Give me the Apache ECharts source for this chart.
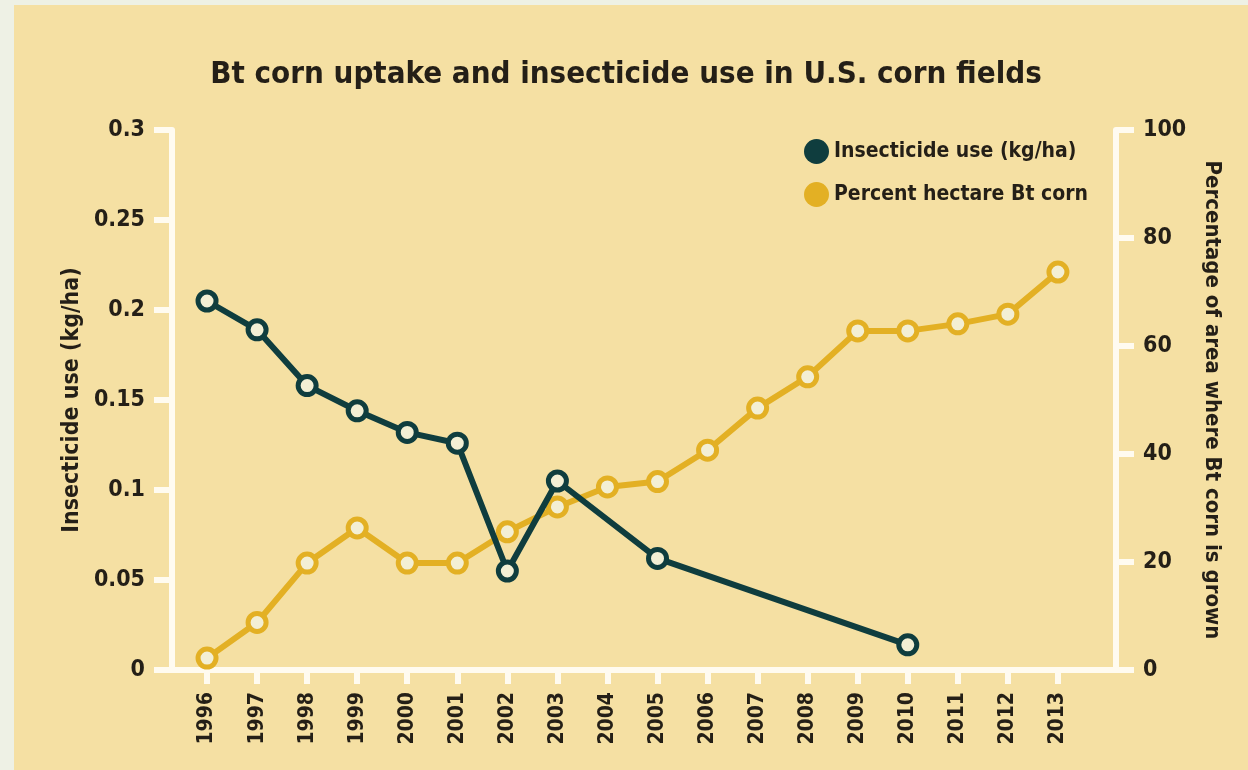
<!DOCTYPE html>
<html>
<head>
<meta charset="utf-8">
<script src="https://cdn.jsdelivr.net/npm/echarts@6/dist/echarts.min.js"></script>
<style>
  html, body { margin: 0; padding: 0; width: 1248px; height: 770px; background: #eef1e5; overflow: hidden; }
  #panel { position: absolute; left: 14px; top: 5px; width: 1234px; height: 765px; background: #f5e0a3; }
  #chart { position: absolute; left: 0; top: 0; width: 1248px; height: 770px; }
</style>
</head>
<body>
<div id="panel"></div>
<div id="chart"></div>
<script>
const years = [1996, 1997, 1998, 1999, 2000, 2001, 2002, 2003, 2004, 2005, 2006, 2007, 2008, 2009, 2010, 2011, 2012, 2013];
const insecticideUse = [0.205, 0.189, 0.158, 0.144, 0.132, 0.126, 0.055, 0.105, null, 0.062, null, null, null, null, 0.014, null, null, null];
const btCornPercent = [2.2, 8.8, 19.8, 26.3, 19.8, 19.8, 25.6, 30.2, 33.9, 34.9, 40.7, 48.5, 54.3, 62.8, 62.8, 64.1, 65.9, 73.7];
const leftTicks = [0, 0.05, 0.1, 0.15, 0.2, 0.25, 0.3];
const rightTicks = [0, 20, 40, 60, 80, 100];

const TEAL = '#0f3d3e';
const GOLD = '#e3b024';
const MARKER_FILL = '#f3efd4';
const INK = '#241f17';
const AXIS = '#fffbf0';
const FONT = '"Liberation Sans Narrow", "DejaVu Sans Condensed", sans-serif';

const insData = years.map((y, i) => [y, insecticideUse[i]]).filter(d => d[1] !== null);
const btData = years.map((y, i) => [y, btCornPercent[i]]);

const chart = echarts.init(document.getElementById('chart'));
chart.setOption({
  backgroundColor: 'transparent',
  animation: false,
  title: {
    text: 'Bt corn uptake and insecticide use in U.S. corn fields',
    left: 621, textAlign: 'center', top: 54,
    textStyle: { fontFamily: FONT, fontWeight: 'bold', fontSize: 31, color: INK }
  },
  legend: {
    left: 799, top: 134, orient: 'vertical', itemGap: 18, itemWidth: 25, itemHeight: 25,
    icon: 'circle', itemStyle: { borderWidth: 0 },
    textStyle: { fontFamily: FONT, fontWeight: 'bold', fontSize: 21, color: INK },
    data: [
      { name: 'Insecticide use (kg/ha)', itemStyle: { color: TEAL, borderWidth: 0 } },
      { name: 'Percent hectare Bt corn', itemStyle: { color: GOLD, borderWidth: 0 } }
    ]
  },
  grid: { left: 172, right: 132, top: 130, bottom: 100, containLabel: false },
  xAxis: {
    type: 'value', min: 1995.3, max: 2014.16,
    splitLine: { show: false },
    axisLine: { show: true, lineStyle: { color: AXIS, width: 6, cap: 'square' } },
    axisTick: { show: true, customValues: years, length: 14, lineStyle: { color: AXIS, width: 6 } },
    axisLabel: {
      customValues: years, rotate: 90, margin: 22,
      fontFamily: FONT, fontWeight: 'bold', fontSize: 21, color: INK,
      formatter: v => String(v)
    }
  },
  yAxis: [
    {
      type: 'value', min: 0, max: 0.3, interval: 0.05, position: 'left',
      name: 'Insecticide use (kg/ha)', nameLocation: 'middle', nameGap: 80, nameRotate: 90,
      nameTextStyle: { fontFamily: FONT, fontWeight: 'bold', fontSize: 23, color: INK },
      splitLine: { show: false },
      axisLine: { show: true, lineStyle: { color: AXIS, width: 6 } },
      axisTick: { show: true, length: 18, lineStyle: { color: AXIS, width: 6 } },
      axisLabel: { margin: 27, fontFamily: FONT, fontWeight: 'bold', fontSize: 23, color: INK,
        customValues: leftTicks }
    },
    {
      type: 'value', min: 0, max: 100, interval: 20, position: 'right',
      name: 'Percentage of area where Bt corn is grown', nameLocation: 'middle', nameGap: 85, nameRotate: -90,
      nameTextStyle: { fontFamily: FONT, fontWeight: 'bold', fontSize: 22, color: INK },
      splitLine: { show: false },
      axisLine: { show: true, lineStyle: { color: AXIS, width: 6 } },
      axisTick: { show: true, length: 18, lineStyle: { color: AXIS, width: 6 } },
      axisLabel: { margin: 27, fontFamily: FONT, fontWeight: 'bold', fontSize: 23, color: INK,
        customValues: rightTicks }
    }
  ],
  series: [
    {
      name: 'Percent hectare Bt corn', type: 'line', yAxisIndex: 1, data: btData,
      symbol: 'circle', symbolSize: 18, z: 3,
      lineStyle: { color: GOLD, width: 6 },
      itemStyle: { color: MARKER_FILL, borderColor: GOLD, borderWidth: 5 }
    },
    {
      name: 'Insecticide use (kg/ha)', type: 'line', yAxisIndex: 0, data: insData,
      symbol: 'circle', symbolSize: 18, z: 4, connectNulls: true,
      lineStyle: { color: TEAL, width: 6 },
      itemStyle: { color: MARKER_FILL, borderColor: TEAL, borderWidth: 5 }
    }
  ]
});
</script>
</body>
</html>
